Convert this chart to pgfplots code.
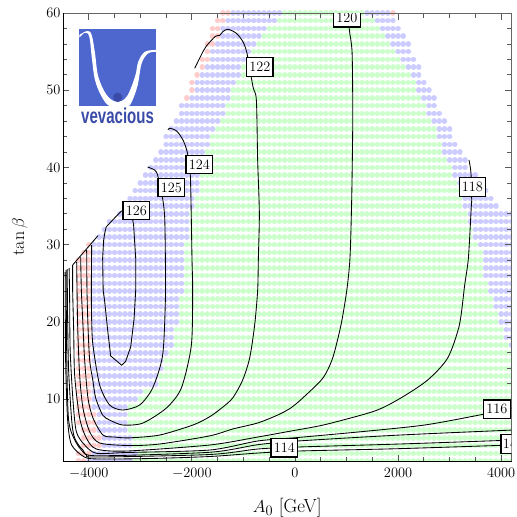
\documentclass[border=0pt]{standalone}
\usepackage{fontspec}
\usepackage{pgfplots}
\pgfplotsset{compat=1.18}
\newfontfamily\logofont{Liberation Sans}
\definecolor{dotg}{RGB}{204,255,204}
\definecolor{dotb}{RGB}{204,204,255}
\definecolor{dotr}{RGB}{255,204,204}
\definecolor{logob}{RGB}{77,103,206}
\definecolor{logod}{RGB}{58,76,168}
\pgfplotsset{
 dotrow/.style={draw=#1,line width=5.5pt,line cap=round,dash pattern=on 0.01pt off 5.143pt,mark=none,forget plot},
 cont/.style={black,line width=0.85pt,smooth,tension=0.45,mark=none},
}
\tikzset{lab/.style={draw=black,line width=1.3pt,fill=white,inner sep=0pt,minimum width=26.5pt,minimum height=18.5pt,font=\fontsize{14.3}{14.3}\selectfont}}
\begin{document}
\begin{tikzpicture}
\useasboundingbox (-63pt,-56pt) rectangle (454pt,461pt);
\begin{axis}[at={(0pt,0pt)},anchor=south west,scale only axis,width=448.5pt,height=450.7pt,
 xmin=-4500,xmax=4200,ymin=2,ymax=60.35,hide axis,unbounded coords=jump]
\addplot[dotrow=dotg] coordinates {
(-200,60)(1300,60)(nan,nan)(-300,59)(1500,59)(nan,nan)(-500,58)(1600,58)(nan,nan)(-600,57)(1700,57)(nan,nan)
(-700,56)(1800,56)(nan,nan)(-800,55)(1900,55)(nan,nan)(-900,54)(2000,54)(nan,nan)(-1000,53)(2100,53)(nan,nan)
(-1000,52)(2200,52)(nan,nan)(-1100,51)(2300,51)(nan,nan)(-1200,50)(2300,50)(nan,nan)(-1200,49)(2400,49)(nan,nan)
(-1300,48)(2500,48)(nan,nan)(-1300,47)(2500,47)(nan,nan)(-1400,46)(2600,46)(nan,nan)(-1500,45)(2700,45)(nan,nan)
(-1600,44)(2700,44)(nan,nan)(-1600,43)(2800,43)(nan,nan)(-1700,42)(2800,42)(nan,nan)(-1700,41)(2900,41)(nan,nan)
(-1800,40)(3000,40)(nan,nan)(-1800,39)(3000,39)(nan,nan)(-1800,38)(3100,38)(nan,nan)(-1800,37)(3200,37)(nan,nan)
(-1900,36)(3200,36)(nan,nan)(-1900,35)(3200,35)(nan,nan)(-2000,34)(3300,34)(nan,nan)(-2000,33)(3300,33)(nan,nan)
(-2000,32)(3400,32)(nan,nan)(-2000,31)(3400,31)(nan,nan)(-2100,30)(3500,30)(nan,nan)(-2100,29)(3600,29)(nan,nan)
(-2100,28)(3600,28)(nan,nan)(-2100,27)(3600,27)(nan,nan)(-2100,26)(3600,26)(nan,nan)(-2100,25)(3700,25)(nan,nan)
(-2100,24)(3700,24)(nan,nan)(-2200,23)(3800,23)(nan,nan)(-2200,22)(3800,22)(nan,nan)(-2200,21)(3900,21)(nan,nan)
(-2200,20)(3900,20)(nan,nan)(-2300,19)(4000,19)(nan,nan)(-2300,18)(4000,18)(nan,nan)(-2300,17)(4100,17)(nan,nan)
(-2400,16)(4200,16)(nan,nan)(-2500,15)(4200,15)(nan,nan)(-2500,14)(4200,14)(nan,nan)(-2600,13)(4200,13)(nan,nan)
(-2600,12)(4200,12)(nan,nan)(-2900,11)(4200,11)(nan,nan)(-3000,10)(4200,10)(nan,nan)(-3200,9)(4200,9)(nan,nan)
(-3200,8)(4200,8)(nan,nan)(-3200,7)(4200,7)(nan,nan)(-3200,6)(4200,6)(nan,nan)(-3100,5)(4200,5)(nan,nan)
(-3100,4)(4200,4)(nan,nan)(-3000,3)(4200,3)(nan,nan)(-3100,2)(4200,2)
};
\addplot[dotrow=dotb] coordinates {
(-1200,60)(-300,60)(nan,nan)(1400,60)(1800,60)(nan,nan)(-1300,59)(-400,59)(nan,nan)(1600,59)(1900,59)(nan,nan)
(-1400,58)(-600,58)(nan,nan)(1700,58)(2000,58)(nan,nan)(-1400,57)(-700,57)(nan,nan)(1800,57)(2100,57)(nan,nan)
(-1500,56)(-800,56)(nan,nan)(1900,56)(2200,56)(nan,nan)(-1600,55)(-900,55)(nan,nan)(2000,55)(2200,55)(nan,nan)
(-1600,54)(-1000,54)(nan,nan)(2100,54)(2300,54)(nan,nan)(-1700,53)(-1100,53)(nan,nan)(2200,53)(2400,53)(nan,nan)
(-1800,52)(-1100,52)(nan,nan)(2300,52)(2400,52)(nan,nan)(-1900,51)(-1200,51)(nan,nan)(2400,51)(2500,51)(nan,nan)
(-1900,50)(-1300,50)(nan,nan)(2400,50)(2600,50)(nan,nan)(-2000,49)(-1300,49)(nan,nan)(2500,49)(2700,49)(nan,nan)
(-2200,48)(-1400,48)(nan,nan)(2600,48)(2700,48)(nan,nan)(-2200,47)(-1400,47)(nan,nan)(2600,47)(2800,47)(nan,nan)
(-2300,46)(-1500,46)(nan,nan)(2700,46)(2900,46)(nan,nan)(-2400,45)(-1600,45)(nan,nan)(2800,45)(3000,45)(nan,nan)
(-2500,44)(-1700,44)(nan,nan)(2800,44)(3000,44)(nan,nan)(-2500,43)(-1700,43)(nan,nan)(2900,43)(3100,43)(nan,nan)
(-2600,42)(-1800,42)(nan,nan)(2900,42)(3200,42)(nan,nan)(-2700,41)(-1800,41)(nan,nan)(3000,41)(3300,41)(nan,nan)
(-2800,40)(-1900,40)(nan,nan)(3100,40)(3300,40)(nan,nan)(-2900,39)(-1900,39)(nan,nan)(3100,39)(3500,39)(nan,nan)
(-3000,38)(-1900,38)(nan,nan)(3200,38)(3600,38)(nan,nan)(-3100,37)(-1900,37)(nan,nan)(3300,37)(3700,37)(nan,nan)
(-3200,36)(-2000,36)(nan,nan)(3300,36)(3800,36)(nan,nan)(-3300,35)(-2000,35)(nan,nan)(3300,35)(3900,35)(nan,nan)
(-3400,34)(-2100,34)(nan,nan)(3400,34)(4200,34)(nan,nan)(-3600,33)(-2100,33)(nan,nan)(3400,33)(4200,33)(nan,nan)
(-3700,32)(-2100,32)(nan,nan)(3500,32)(4200,32)(nan,nan)(-3800,31)(-2100,31)(nan,nan)(3500,31)(4200,31)(nan,nan)
(-3900,30)(-2200,30)(nan,nan)(3600,30)(4200,30)(nan,nan)(-3900,29)(-2200,29)(nan,nan)(3700,29)(4200,29)(nan,nan)
(-3900,28)(-2200,28)(nan,nan)(3700,28)(4200,28)(nan,nan)(-3900,27)(-2200,27)(nan,nan)(3700,27)(4200,27)(nan,nan)
(-3900,26)(-2200,26)(nan,nan)(3700,26)(4200,26)(nan,nan)(-3900,25)(-2200,25)(nan,nan)(3800,25)(4200,25)(nan,nan)
(-3900,24)(-2200,24)(nan,nan)(3800,24)(4200,24)(nan,nan)(-3900,23)(-2300,23)(nan,nan)(3900,23)(4200,23)(nan,nan)
(-3900,22)(-2300,22)(nan,nan)(3900,22)(4200,22)(nan,nan)(-3900,21)(-2300,21)(nan,nan)(4000,21)(4200,21)(nan,nan)
(-3900,20)(-2300,20)(nan,nan)(4000,20)(4200,20)(nan,nan)(-3900,19)(-2400,19)(nan,nan)(4100,19)(4200,19)(nan,nan)
(-3900,18)(-2400,18)(nan,nan)(4100,18)(4200,18)(nan,nan)(-3900,17)(-2400,17)(nan,nan)(4200,17)(4201,17)(nan,nan)
(-3900,16)(-2500,16)(nan,nan)(-3900,15)(-2600,15)(nan,nan)(-3900,14)(-2600,14)(nan,nan)(-3900,13)(-2700,13)(nan,nan)
(-3900,12)(-2700,12)(nan,nan)(-3900,11)(-3000,11)(nan,nan)(-3900,10)(-3100,10)(nan,nan)(-3900,9)(-3300,9)(nan,nan)
(-3800,8)(-3300,8)(nan,nan)(-3800,7)(-3300,7)(nan,nan)(-3800,6)(-3300,6)(nan,nan)(-3700,5)(-3200,5)(nan,nan)
(-3700,4)(-3200,4)(nan,nan)(-3900,3)(-3100,3)(nan,nan)(-4000,2)(-3200,2)
};
\addplot[dotrow=dotr] coordinates {
(-1400,60)(-1300,60)(nan,nan)(1900,60)(1901,60)(nan,nan)(-1500,59)(-1400,59)(nan,nan)(-1600,58)(-1500,58)(nan,nan)
(-1600,57)(-1500,57)(nan,nan)(-1700,56)(-1600,56)(nan,nan)(-1700,55)(-1699,55)(nan,nan)(-1800,54)(-1700,54)(nan,nan)
(-1800,53)(-1799,53)(nan,nan)(-1900,52)(-1899,52)(nan,nan)(-2000,51)(-1999,51)(nan,nan)(-2000,50)(-1999,50)(nan,nan)
(-2100,49)(-2099,49)(nan,nan)(-4000,30)(-3999,30)(nan,nan)(-4100,29)(-4000,29)(nan,nan)(-4200,28)(-4000,28)(nan,nan)
(-4200,27)(-4000,27)(nan,nan)(-4200,26)(-4000,26)(nan,nan)(-4200,25)(-4000,25)(nan,nan)(-4200,24)(-4000,24)(nan,nan)
(-4200,23)(-4000,23)(nan,nan)(-4200,22)(-4000,22)(nan,nan)(-4200,21)(-4000,21)(nan,nan)(-4200,20)(-4000,20)(nan,nan)
(-4200,19)(-4000,19)(nan,nan)(-4200,18)(-4000,18)(nan,nan)(-4200,17)(-4000,17)(nan,nan)(-4200,16)(-4000,16)(nan,nan)
(-4200,15)(-4000,15)(nan,nan)(-4200,14)(-4000,14)(nan,nan)(-4200,13)(-4000,13)(nan,nan)(-4200,12)(-4000,12)(nan,nan)
(-4200,11)(-4000,11)(nan,nan)(-4200,10)(-4000,10)(nan,nan)(-4200,9)(-4000,9)(nan,nan)(-4200,8)(-3900,8)(nan,nan)
(-4200,7)(-3900,7)(nan,nan)(-4100,6)(-3900,6)(nan,nan)(-4100,5)(-3800,5)(nan,nan)(-4100,4)(-3800,4)(nan,nan)
(-4200,3)(-4000,3)(nan,nan)(-4200,2)(-4100,2)
};
\end{axis}
\begin{axis}[at={(0pt,0pt)},anchor=south west,scale only axis,width=448.5pt,height=448pt,
 xmin=-4500,xmax=4200,ymin=2,ymax=60,
 xtick={-4000,-2000,0,2000,4000},minor x tick num=3,
 ytick={10,20,30,40,50,60},minor y tick num=4,
 major tick length=6.5pt,minor tick length=4.5pt,
 tick style={color=black!65,line width=0.8pt},
 axis line style={draw=black!60,line width=0.9pt},
 /pgf/number format/1000 sep={},
 tick label style={font=\fontsize{14.5}{14.5}\selectfont},
 xlabel={$A_0$ [GeV]},ylabel={$\tan\beta$},
 xlabel style={yshift=-12pt,font=\fontsize{19}{19}\selectfont},
 ylabel style={yshift=12pt,font=\fontsize{18}{18}\selectfont},
 xticklabel style={yshift=-4pt},yticklabel style={xshift=1pt},
]
\addplot[black,line width=0.85pt,mark=none] coordinates {(-3362,34.4)(-3556,33.07)(-3663,32.29)(-3690,31.5)(-3711,30.6)(-3731,28.28)(-3721,24.1)(-3692,22.7)(-3634,18.96)(-3575,15.6)(-3362,14.4)(-3285,14.9)(-3187,16.76)(-3120,20.5)(-3090,24.1)(-3090,28.28)(-3129,32.4)(-3168,34.2)};
\addplot[cont] coordinates {(-3944,29.96)(-3950,24.1)(-3944,20.25)(-3919,17)(-3789,11.84)(-3595,9.25)(-3343,8.6)(-3013,9.25)(-2761,11.45)(-2567,15.7)(-2514,22.84)(-2514,28.28)(-2528,33.6)(-2572,36.18)(-2664,39)(-2722,39.67)(-2858,40.06)};
\addplot[cont] coordinates {(-4041,29.3)(-4035,24.1)(-4016,19.6)(-3983,15.07)(-3919,12.35)(-3866,10.15)(-3731,7.95)(-3595,7.3)(-3343,6.66)(-2955,6.9)(-2495,8.86)(-2204,11.45)(-2010,17)(-1985,24)(-1998,28.28)(-2029,38.8)(-2087,41.9)(-2173,43.56)(-2301,44.76)(-2431,45.07)(-2464,44.85)};
\addplot[cont] coordinates {(-4157,28.4)(-4144,24.1)(-4113,19.6)(-4080,15.07)(-4016,10.15)(-3919,7.57)(-3725,5.36)(-3498,5.1)(-3207,5.0)(-2625,5.36)(-1979,6.66)(-1655,7.73)(-1422,8.86)(-1209,10.15)(-1015,12.48)(-879,15.33)(-782,19.6)(-724,24.1)(-710,28.28)(-691,34.1)(-724,40.97)(-749,48.74)(-815,50.46)(-931,54.78)(-1009,56.28)(-1137,57.37)(-1300,57.9)(-1397,57.6)(-1461,57.1)(-1544,56.98)(-1719,55.73)(-1785,55)(-1946,52.84)};
\addplot[cont] coordinates {(1042,60)(1055,57.8)(1106,55.2)(1119,50)(1119,44.46)(1100,35.8)(1067,28.28)(1003,24)(892,19.6)(731,15.33)(537,12.7)(149,10.15)(-83,8.86)(-336,7.95)(-724,6.92)(-1209,6.14)(-1655,5.25)(-2625,4.2)(-3207,4)(-3789,4.33)(-3983,5.8)(-4113,8.86)(-4177,13.13)(-4216,19.6)(-4235,27.76)};
\addplot[cont] coordinates {(3376,40.97)(3414,39.3)(3428,35.8)(3420,34.9)(3364,28.28)(3292,24.78)(3189,19.6)(2962,15.33)(2574,12.48)(2051,10.15)(1546,8.47)(576,6.7)(-78,5.88)(-724,5.1)(-1655,4.07)(-3271,3.29)(-3853,3.55)(-4047,4.97)(-4177,7.57)(-4274,13.13)(-4293,18.96)(-4313,24.1)(-4313,27.37)};
\addplot[cont] coordinates {(4204,8.86)(3674,8.08)(2516,6.66)(1216,5.75)(52,5.04)(-724,4.59)(-1655,3.42)(-3271,3.1)(-3853,3)(-4080,4.07)(-4241,5.8)(-4307,9.9)(-4361,16.37)(-4371,22.84)(-4381,26.98)};
\addplot[cont] coordinates {(4194,6)(2031,5.36)(52,4.59)(-724,4.11)(-1655,3.13)(-3853,2.68)(-4113,3.42)(-4274,4.97)(-4332,7.3)(-4391,13.78)(-4410,20.25)(-4419,26.85)};
\addplot[cont] coordinates {(4194,4.7)(2031,4.2)(52,3.81)(-724,3.55)(-1655,2.84)(-3853,2.51)(-4047,2.77)(-4241,4.33)(-4391,7.3)(-4429,16.37)(-4439,26.73)};
\addplot[cont] coordinates {(4194,4.07)(2031,3.6)(52,3.29)(-724,3.03)(-1655,2.58)(-2819,2.32)(-3789,2.26)(-4080,2.5)(-4332,4.07)(-4410,7.3)(-4449,15.07)(-4458,26.46)};
\addplot[black,line width=0.85pt,mark=none] coordinates {(-4313,27.37)(-3822,31.17)};
\node[lab] at (axis cs:-3077,34.43) {126};
\node[lab] at (axis cs:-2398,37.4) {125};
\node[lab] at (axis cs:-1855,40.38) {124};
\node[lab] at (axis cs:-681,53) {122};
\node[lab] at (axis cs:1009,59.38) {120};
\node[lab] at (axis cs:3442,37.47) {118};
\node[lab] at (axis cs:3917,8.69) {116};
\node[lab] at (axis cs:-206,3.7) {114};
\node[lab,anchor=west,minimum width=0pt,text width=26pt,align=left,inner xsep=2pt] at (axis cs:3981,4.2) {14};
\end{axis}
\draw[black,line width=1pt] (0pt,448pt)--(0pt,0pt)--(448.5pt,0pt);
\begin{scope}[shift={(-63pt,461pt)},x=1pt,y=-1pt]
\fill[logob] (79.3,29.3) rectangle (156,106.3);
\fill[white] plot[smooth,tension=0.6] coordinates {(79.3,35)(87.3,31)(91.7,35)(95,53.3)(98.3,76.7)(106.7,95)(116.7,101.7)(126.7,96.7)(135,76.7)(138.3,61.7)(145,51.7)(156,50)}
 -- plot[smooth,tension=0.6] coordinates {(156,52)(148.3,53.3)(141.7,63.3)(137.3,86.7)(130,105)(123.3,106.3)(110,106.3)(101.7,96.7)(95,80)(91.7,56.7)(89.3,36.7)(85,32.7)(79.3,37.7)} -- cycle;
\fill[logod] (117.7,97.3) circle (4.7);
\node[text=logod,xscale=0.7,font=\fontsize{21.5}{21.5}\selectfont\logofont\bfseries,inner sep=0pt] at (117.6,115.5) {vevacious};
\end{scope}
\end{tikzpicture}
\end{document}
